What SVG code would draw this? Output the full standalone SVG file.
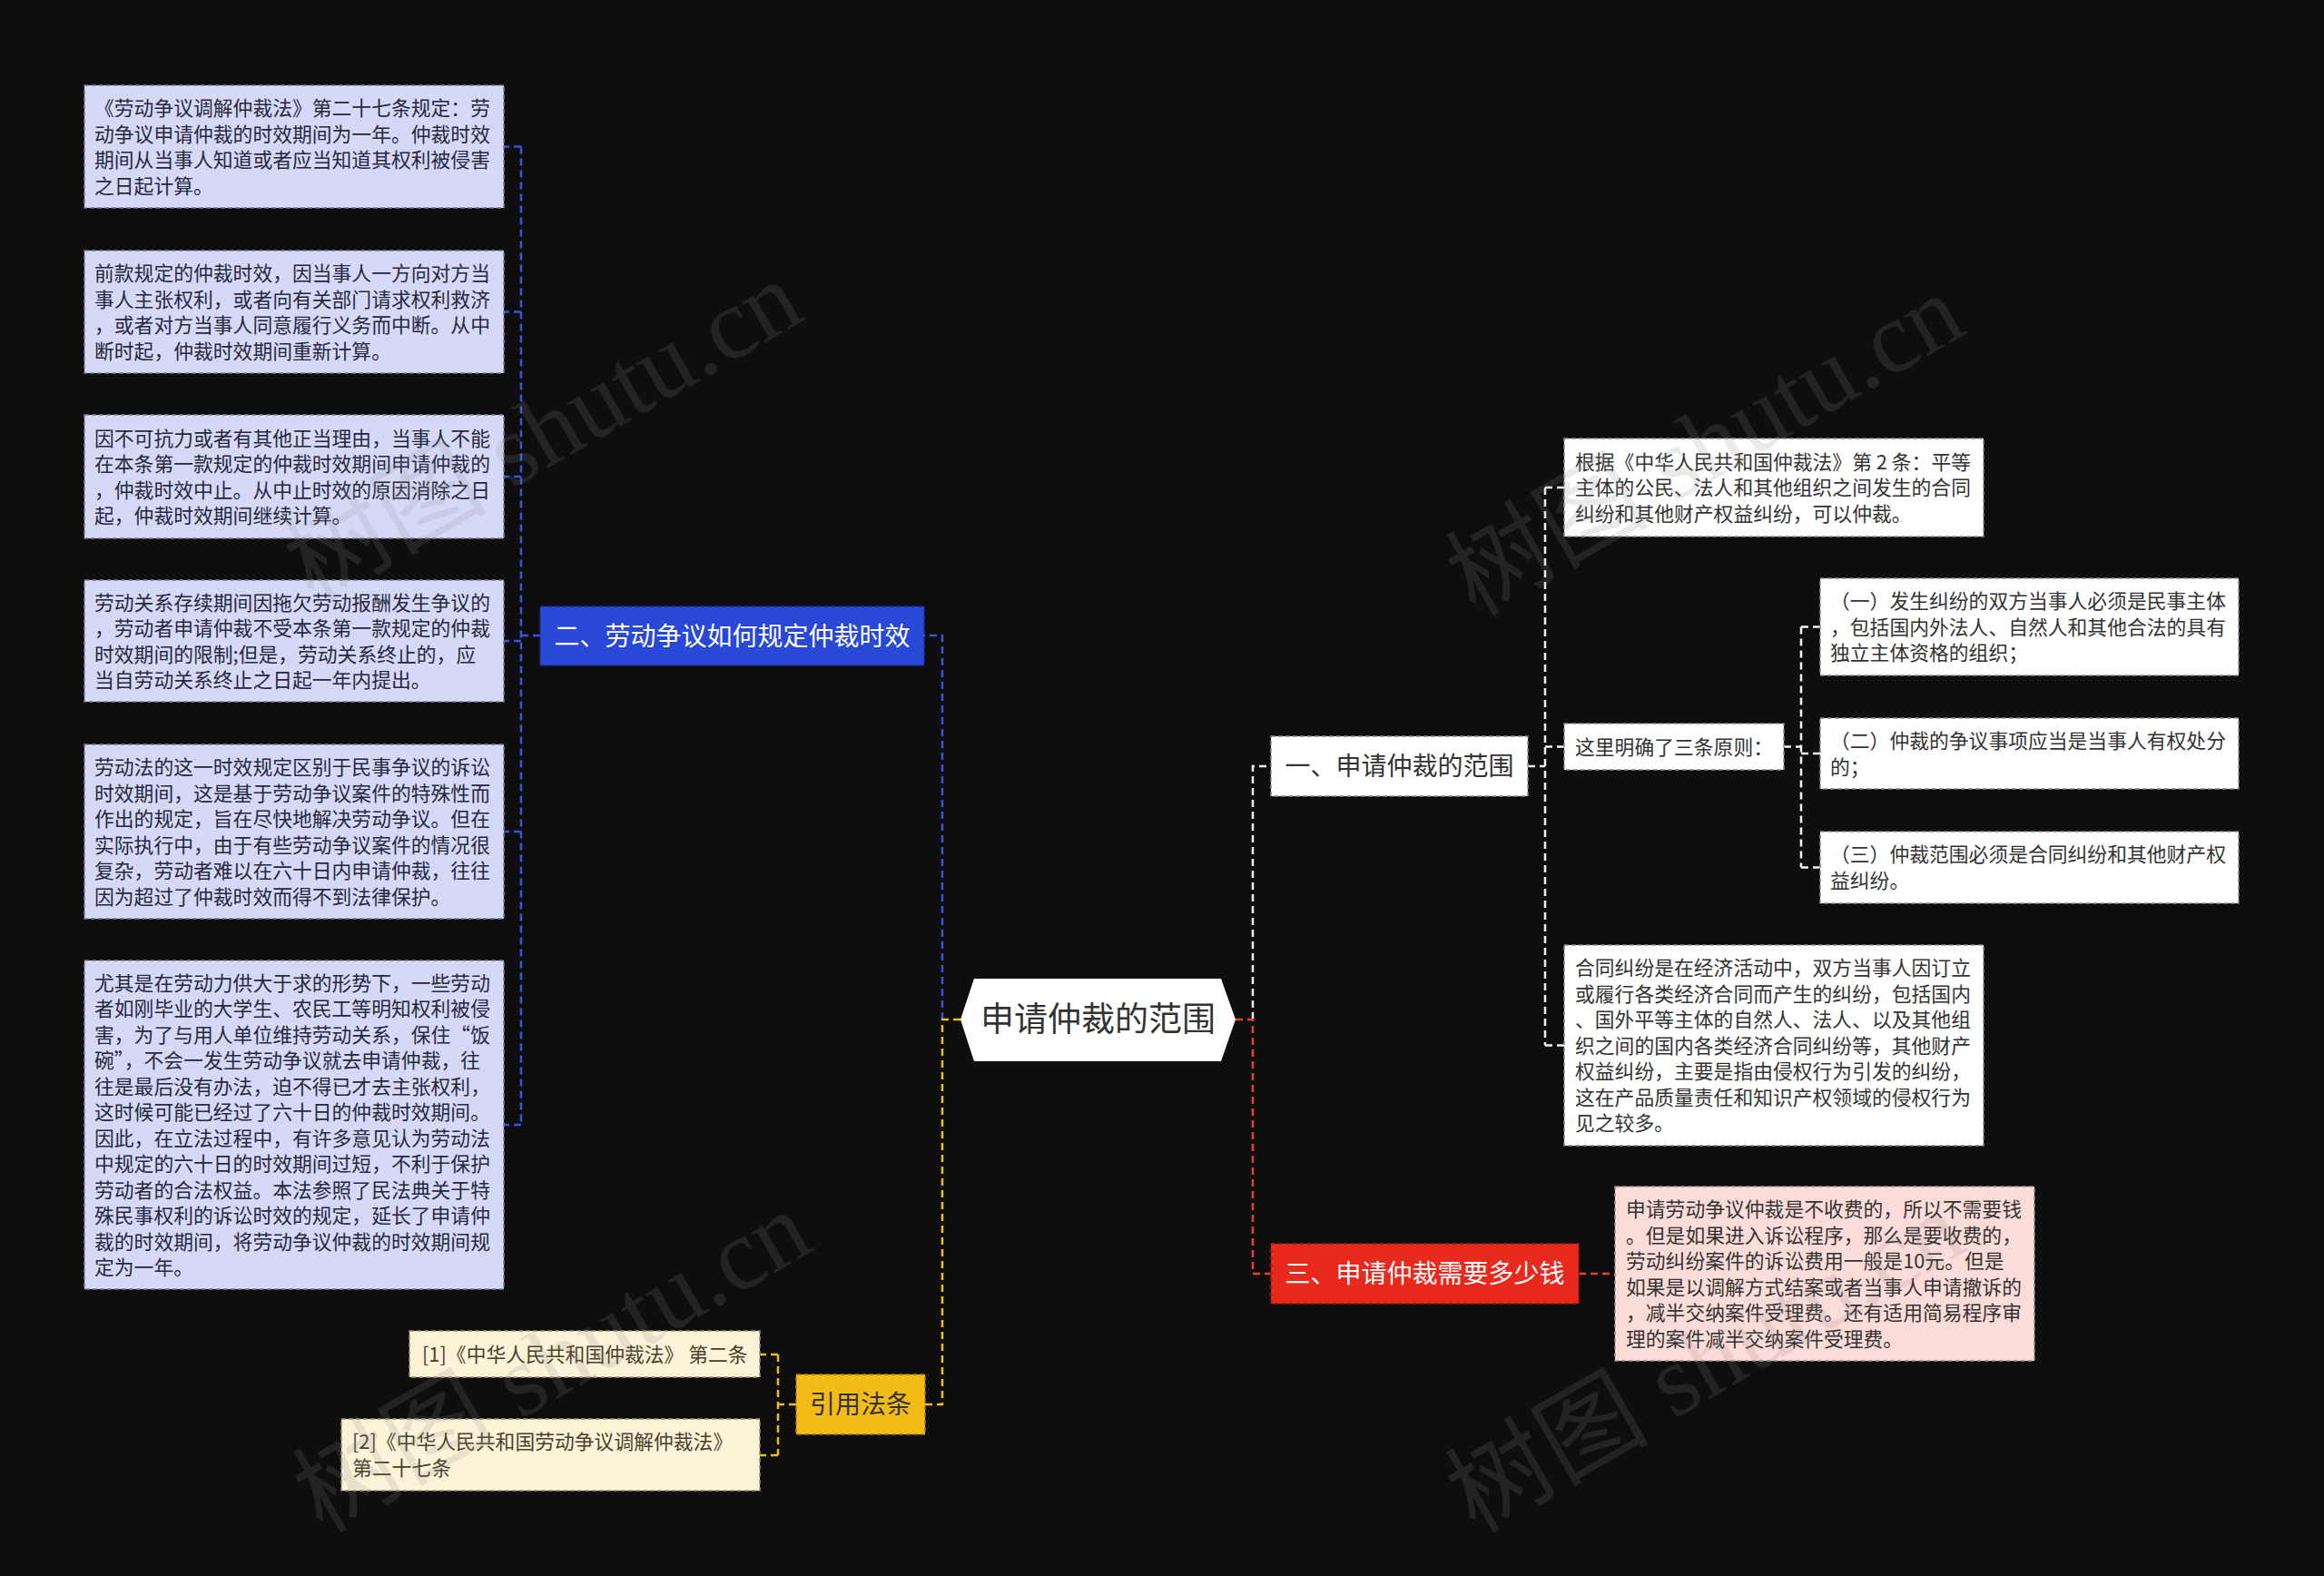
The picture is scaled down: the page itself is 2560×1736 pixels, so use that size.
<svg xmlns="http://www.w3.org/2000/svg" width="2560" height="1736" viewBox="0 0 2560 1736">
<style>
text{font-family:"Noto Sans CJK SC","Noto Sans",sans-serif}
.lav{fill:#d6d9f6;stroke:#7a7d99;stroke-width:1.5;stroke-dasharray:5 3}
.wht{fill:#ffffff;stroke:#8a8a8a;stroke-width:1.5;stroke-dasharray:5 3}
.crm{fill:#fcf3d8;stroke:#9c8f6c;stroke-width:1.5;stroke-dasharray:5 3}
.pnk{fill:#fcdcd8;stroke:#9d8c8a;stroke-width:1.5;stroke-dasharray:5 3}
.t{font-size:21.8px}
.dk{fill:#262840}
.gy{fill:#333333}
.br{fill:#4a3f2a}
.n{font-size:28px;text-anchor:middle}
.c{fill:none;stroke-width:2.5;stroke-dasharray:8 5}
.cb{stroke:#3654de}.cy{stroke:#f2bb16}.cr{stroke:#e8402f}.cw{stroke:#f2f2f2}
.wm{font-family:"Liberation Serif","Noto Sans CJK SC",serif;font-size:112px;fill:#8a8a8a;opacity:0.17}
</style>
<rect width="2560" height="1736" fill="#0e0e0e"/>

<g id="connectors">
<path class="c cb" d="M1038 1123 V700 H1018"/>
<path class="c cb" d="M595 700 H574"/>
<path class="c cb" d="M574 161.5 V1239"/>
<path class="c cb" d="M574 161.5 H555 M574 343.5 H555 M574 525 H555 M574 706 H555 M574 916 H555 M574 1239 H555"/>
<path class="c cy" d="M1058 1123 H1038 V1547 H1019"/>
<path class="c cy" d="M877 1547 H857 M857 1492 V1603 M857 1492 H837 M857 1603 H837"/>
<path class="c cw" d="M1380 1123 V844 H1400"/>
<path class="c cr" d="M1361 1123 H1380 V1403 H1400"/>
<path class="c cr" d="M1739 1403 H1779"/>
<path class="c cw" d="M1683 844 H1702 M1702 537 V1151.5 M1702 537 H1723 M1702 822.5 H1723 M1702 1151.5 H1723"/>
<path class="c cw" d="M1965 822.5 H1984 M1984 690.5 V955.5 M1984 690.5 H2005 M1984 830 H2005 M1984 955.5 H2005"/>
</g>

<g id="root">
<polygon points="1073,1078 1345,1078 1361,1123 1345,1169 1073,1169 1058,1123" fill="#ffffff"/>
<text x="1209.5" y="1136" font-size="37" text-anchor="middle" class="gy">申请仲裁的范围</text>
</g>

<g id="n2">
<rect x="595" y="668" width="423" height="65" fill="#2a48d8" stroke="#1b2f9a" stroke-width="1.5" stroke-dasharray="5 3"/>
<text x="806.5" y="710.5" class="n" fill="#ffffff">二、劳动争议如何规定仲裁时效</text>
</g>

<g id="l1">
<rect class="lav" x="93" y="94" width="462" height="135"/>
<text class="t dk" x="104" y="127"><tspan x="104">《劳动争议调解仲裁法》第二十七条规定：劳</tspan><tspan x="104" dy="28.5">动争议申请仲裁的时效期间为一年。仲裁时效</tspan><tspan x="104" dy="28.5">期间从当事人知道或者应当知道其权利被侵害</tspan><tspan x="104" dy="28.5">之日起计算。</tspan></text>
</g>
<g id="l2">
<rect class="lav" x="93" y="276" width="462" height="135"/>
<text class="t dk" x="104" y="309"><tspan x="104">前款规定的仲裁时效，因当事人一方向对方当</tspan><tspan x="104" dy="28.5">事人主张权利，或者向有关部门请求权利救济</tspan><tspan x="104" dy="28.5">，或者对方当事人同意履行义务而中断。从中</tspan><tspan x="104" dy="28.5">断时起，仲裁时效期间重新计算。</tspan></text>
</g>
<g id="l3">
<rect class="lav" x="93" y="457" width="462" height="136"/>
<text class="t dk" x="104" y="490.5"><tspan x="104">因不可抗力或者有其他正当理由，当事人不能</tspan><tspan x="104" dy="28.5">在本条第一款规定的仲裁时效期间申请仲裁的</tspan><tspan x="104" dy="28.5">，仲裁时效中止。从中止时效的原因消除之日</tspan><tspan x="104" dy="28.5">起，仲裁时效期间继续计算。</tspan></text>
</g>
<g id="l4">
<rect class="lav" x="93" y="639" width="462" height="134"/>
<text class="t dk" x="104" y="671.5"><tspan x="104">劳动关系存续期间因拖欠劳动报酬发生争议的</tspan><tspan x="104" dy="28.5">，劳动者申请仲裁不受本条第一款规定的仲裁</tspan><tspan x="104" dy="28.5">时效期间的限制;但是，劳动关系终止的，应</tspan><tspan x="104" dy="28.5">当自劳动关系终止之日起一年内提出。</tspan></text>
</g>
<g id="l5">
<rect class="lav" x="93" y="820" width="462" height="192"/>
<text class="t dk" x="104" y="853"><tspan x="104">劳动法的这一时效规定区别于民事争议的诉讼</tspan><tspan x="104" dy="28.5">时效期间，这是基于劳动争议案件的特殊性而</tspan><tspan x="104" dy="28.5">作出的规定，旨在尽快地解决劳动争议。但在</tspan><tspan x="104" dy="28.5">实际执行中，由于有些劳动争议案件的情况很</tspan><tspan x="104" dy="28.5">复杂，劳动者难以在六十日内申请仲裁，往往</tspan><tspan x="104" dy="28.5">因为超过了仲裁时效而得不到法律保护。</tspan></text>
</g>
<g id="l6">
<rect class="lav" x="93" y="1058" width="462" height="362"/>
<text class="t dk" x="104" y="1090.5"><tspan x="104">尤其是在劳动力供大于求的形势下，一些劳动</tspan><tspan x="104" dy="28.5">者如刚毕业的大学生、农民工等明知权利被侵</tspan><tspan x="104" dy="28.5">害，为了与用人单位维持劳动关系，保住“饭</tspan><tspan x="104" dy="28.5">碗”，不会一发生劳动争议就去申请仲裁，往</tspan><tspan x="104" dy="28.5">往是最后没有办法，迫不得已才去主张权利，</tspan><tspan x="104" dy="28.5">这时候可能已经过了六十日的仲裁时效期间。</tspan><tspan x="104" dy="28.5">因此，在立法过程中，有许多意见认为劳动法</tspan><tspan x="104" dy="28.5">中规定的六十日的时效期间过短，不利于保护</tspan><tspan x="104" dy="28.5">劳动者的合法权益。本法参照了民法典关于特</tspan><tspan x="104" dy="28.5">殊民事权利的诉讼时效的规定，延长了申请仲</tspan><tspan x="104" dy="28.5">裁的时效期间，将劳动争议仲裁的时效期间规</tspan><tspan x="104" dy="28.5">定为一年。</tspan></text>
</g>

<g id="n4">
<rect x="877" y="1514" width="142" height="66" fill="#f2bb16" stroke="#a57d05" stroke-width="1.5" stroke-dasharray="5 3"/>
<text x="948" y="1557" class="n gy">引用法条</text>
</g>
<g id="c1">
<rect class="crm" x="451" y="1466" width="386" height="51"/>
<text class="t br" x="465" y="1499.5">[1]《中华人民共和国仲裁法》 第二条</text>
</g>
<g id="c2">
<rect class="crm" x="376" y="1563" width="461" height="79"/>
<text class="t br" x="388" y="1596"><tspan x="388">[2]《中华人民共和国劳动争议调解仲裁法》</tspan><tspan x="388" dy="28.5">第二十七条</tspan></text>
</g>

<g id="n1">
<rect class="wht" x="1400" y="811" width="283" height="66"/>
<text x="1541.5" y="854" class="n gy">一、申请仲裁的范围</text>
</g>
<g id="r1">
<rect class="wht" x="1723" y="483" width="462" height="108"/>
<text class="t gy" x="1735" y="516.5"><tspan x="1735">根据《中华人民共和国仲裁法》第 2 条：平等</tspan><tspan x="1735" dy="28.5">主体的公民、法人和其他组织之间发生的合同</tspan><tspan x="1735" dy="28.5">纠纷和其他财产权益纠纷，可以仲裁。</tspan></text>
</g>
<g id="r2">
<rect class="wht" x="1723" y="797" width="242" height="51"/>
<text class="t gy" x="1735" y="830.5">这里明确了三条原则：</text>
</g>
<g id="r2a">
<rect class="wht" x="2005" y="637" width="461" height="107"/>
<text class="t gy" x="2016" y="670"><tspan x="2016">（一）发生纠纷的双方当事人必须是民事主体</tspan><tspan x="2016" dy="28.5">，包括国内外法人、自然人和其他合法的具有</tspan><tspan x="2016" dy="28.5">独立主体资格的组织；</tspan></text>
</g>
<g id="r2b">
<rect class="wht" x="2005" y="791" width="461" height="78"/>
<text class="t gy" x="2016" y="824"><tspan x="2016">（二）仲裁的争议事项应当是当事人有权处分</tspan><tspan x="2016" dy="28.5">的；</tspan></text>
</g>
<g id="r2c">
<rect class="wht" x="2005" y="916" width="461" height="79"/>
<text class="t gy" x="2016" y="949"><tspan x="2016">（三）仲裁范围必须是合同纠纷和其他财产权</tspan><tspan x="2016" dy="28.5">益纠纷。</tspan></text>
</g>
<g id="r3">
<rect class="wht" x="1723" y="1041" width="462" height="221"/>
<text class="t gy" x="1735" y="1074"><tspan x="1735">合同纠纷是在经济活动中，双方当事人因订立</tspan><tspan x="1735" dy="28.5">或履行各类经济合同而产生的纠纷，包括国内</tspan><tspan x="1735" dy="28.5">、国外平等主体的自然人、法人、以及其他组</tspan><tspan x="1735" dy="28.5">织之间的国内各类经济合同纠纷等，其他财产</tspan><tspan x="1735" dy="28.5">权益纠纷，主要是指由侵权行为引发的纠纷，</tspan><tspan x="1735" dy="28.5">这在产品质量责任和知识产权领域的侵权行为</tspan><tspan x="1735" dy="28.5">见之较多。</tspan></text>
</g>

<g id="n3">
<rect x="1400" y="1370" width="339" height="66" fill="#e8291d" stroke="#9e1a10" stroke-width="1.5" stroke-dasharray="5 3"/>
<text x="1569.5" y="1413" class="n" fill="#ffffff">三、申请仲裁需要多少钱</text>
</g>
<g id="p1">
<rect class="pnk" x="1779" y="1307" width="462" height="192"/>
<text class="t gy" x="1791" y="1340"><tspan x="1791">申请劳动争议仲裁是不收费的，所以不需要钱</tspan><tspan x="1791" dy="28.5">。但是如果进入诉讼程序，那么是要收费的，</tspan><tspan x="1791" dy="28.5">劳动纠纷案件的诉讼费用一般是10元。但是</tspan><tspan x="1791" dy="28.5">如果是以调解方式结案或者当事人申请撤诉的</tspan><tspan x="1791" dy="28.5">，减半交纳案件受理费。还有适用简易程序审</tspan><tspan x="1791" dy="28.5">理的案件减半交纳案件受理费。</tspan></text>
</g>

<g id="watermark">
<text class="wm" transform="translate(345 665) rotate(-30)">树图 shutu.cn</text>
<text class="wm" transform="translate(1625 680) rotate(-30)">树图 shutu.cn</text>
<text class="wm" transform="translate(355 1690) rotate(-30)">树图 shutu.cn</text>
<text class="wm" transform="translate(1625 1690) rotate(-30)">树图 shutu.cn</text>
</g>
</svg>
